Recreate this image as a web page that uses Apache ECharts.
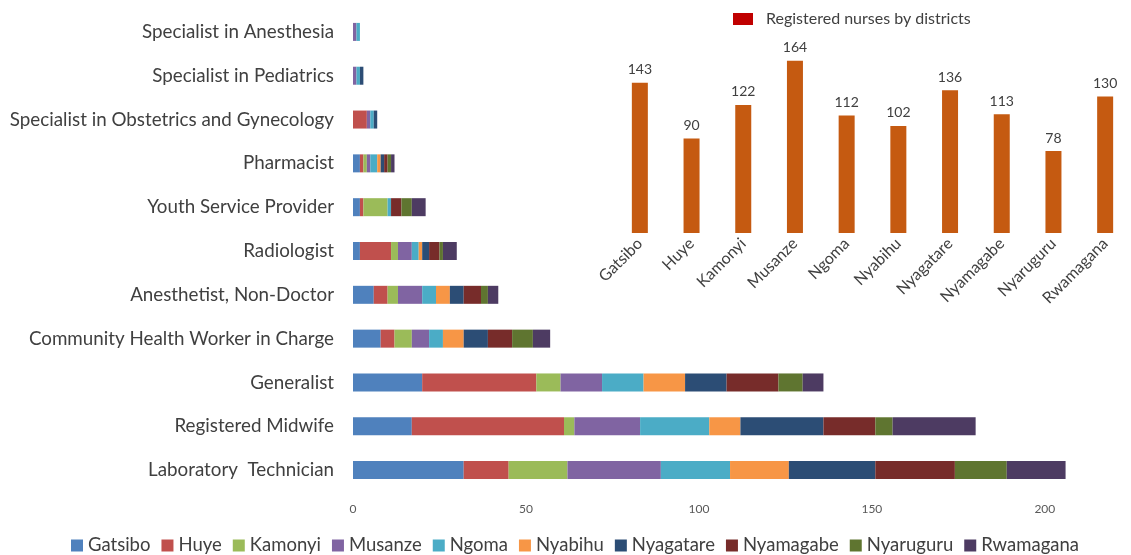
<!DOCTYPE html>
<html><head><meta charset="utf-8">
<script src="https://cdn.jsdelivr.net/npm/echarts@6/dist/echarts.min.js"></script>
<style>html,body{margin:0;padding:0;background:#fff}#c{width:1131px;height:555px}</style>
</head><body><div id="c"></div>
<script>
// Main stacked bar chart (categories from bottom to top)
const roles = ["Laboratory  Technician","Registered Midwife","Generalist","Community Health Worker in Charge","Anesthetist, Non-Doctor","Radiologist","Youth Service Provider","Pharmacist","Specialist in Obstetrics and Gynecology","Specialist in Pediatrics","Specialist in Anesthesia"];
const districts = ["Gatsibo","Huye","Kamonyi","Musanze","Ngoma","Nyabihu","Nyagatare","Nyamagabe","Nyaruguru","Rwamagana"];
const gatsibo   = [32,17,20,8,6,2,2,2,0,0,0];
const huye      = [13,44,33,4,4,9,1,1,4,0,0];
const kamonyi   = [17,3,7,5,3,2,7,1,0,0,0];
const musanze   = [27,19,12,5,7,4,0,1,1,1,1];
const ngoma     = [20,20,12,4,4,2,1,2,1,1,1];
const nyabihu   = [17,9,12,6,4,1,0,1,0,0,0];
const nyagatare = [25,24,12,7,4,2,0,1,1,1,0];
const nyamagabe = [23,15,15,7,5,3,3,1,0,0,0];
const nyaruguru = [15,5,7,6,2,1,3,1,0,0,0];
const rwamagana = [17,24,6,5,3,4,4,1,0,0,0];
const xTicks = [0,50,100,150,200];
// Inset: registered nurses by district
const nurseDistricts = ["Gatsibo","Huye","Kamonyi","Musanze","Ngoma","Nyabihu","Nyagatare","Nyamagabe","Nyaruguru","Rwamagana"];
const nurses = [143,90,122,164,112,102,136,113,78,130];

const seriesValues = [gatsibo,huye,kamonyi,musanze,ngoma,nyabihu,nyagatare,nyamagabe,nyaruguru,rwamagana];
const colors = ['#4F81BD','#C0504D','#9BBB59','#8064A2','#4BACC6','#F79646','#2C4D75','#772C2A','#5F7530','#4D3B62'];
const FONT = 'Lato';

const series = districts.map((d,i)=>({
  name:d, type:'bar', stack:'total', xAxisIndex:0, yAxisIndex:0,
  barWidth:18, data:seriesValues[i],
  itemStyle:{color:colors[i]}
}));
series.push({
  name:'Registered nurses by districts', type:'bar', xAxisIndex:1, yAxisIndex:1,
  barWidth:16, data:nurses, itemStyle:{color:'#C55A11'},
  label:{show:true, position:'top', distance:6, color:'#404040', fontSize:14, fontFamily:FONT}
});

const chart = echarts.init(document.getElementById('c'), null, {renderer:'canvas'});
chart.setOption({
  animation:false,
  color:colors,
  grid:[
    {left:353, top:10, width:761, bottom:63},
    {left:614, width:524, top:44, height:189}
  ],
  xAxis:[
    {type:'value', gridIndex:0, min:0, max:220, interval:50,
     axisLine:{show:false}, axisTick:{show:false}, splitLine:{show:false},
     axisLabel:{color:'#595959', fontSize:12, fontFamily:FONT, margin:11, showMaxLabel:false,
       formatter:v=> xTicks.indexOf(v)>=0 ? String(v) : ''}},
    {type:'category', gridIndex:1, data:nurseDistricts,
     axisLine:{show:false}, axisTick:{show:false},
     axisLabel:{rotate:45, color:'#404040', fontSize:16, fontFamily:FONT, margin:8, interval:0}}
  ],
  yAxis:[
    {type:'category', gridIndex:0, data:roles,
     axisLine:{show:false}, axisTick:{show:false},
     axisLabel:{color:'#404040', fontSize:18.8, fontFamily:FONT, margin:19}},
    {type:'value', gridIndex:1, min:0, max:180, show:false, splitLine:{show:false}}
  ],
  legend:[
    {data:districts, top:531, left:66, itemWidth:12, itemHeight:12, itemGap:11,
     icon:'rect', textStyle:{color:'#404040', fontSize:18.5, fontFamily:FONT}},
    {data:[{name:'Registered nurses by districts', itemStyle:{color:'#C00000'}}],
     top:6, left:728, itemWidth:20, itemHeight:12, icon:'rect',
     textStyle:{color:'#404040', fontSize:16, fontFamily:FONT, padding:[0,0,0,8]}}
  ],
  series:series
});
</script></body></html>
